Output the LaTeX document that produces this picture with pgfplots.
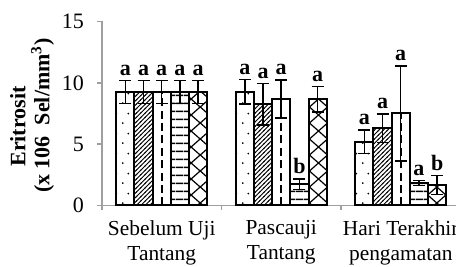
\documentclass[border=0pt]{standalone}
\usepackage{fontspec}
\setmainfont{Liberation Serif}
\usepackage{pgfplots}
\usepackage{pgfplotstable}
\pgfplotsset{compat=1.18}
\usetikzlibrary{patterns}

\pgfdeclarepatternformonly{sdots}{\pgfpointorigin}{\pgfpoint{6pt}{10pt}}{\pgfpoint{6pt}{10pt}}{%
  \pgfpathcircle{\pgfpoint{1.5pt}{2pt}}{0.5pt}%
  \pgfpathcircle{\pgfpoint{4.5pt}{7pt}}{0.5pt}%
  \pgfusepath{fill}}
\pgfdeclarepatternformonly{nelines}{\pgfpoint{-0.5pt}{-0.5pt}}{\pgfpoint{2.7pt}{2.7pt}}{\pgfpoint{2.2pt}{2.2pt}}{%
  \pgfsetlinewidth{0.45pt}%
  \pgfpathmoveto{\pgfpoint{-0.3pt}{-0.3pt}}\pgfpathlineto{\pgfpoint{2.5pt}{2.5pt}}\pgfusepath{stroke}}
\pgfdeclarepatternformonly{hlines}{\pgfpoint{0pt}{0pt}}{\pgfpoint{4pt}{4pt}}{\pgfpoint{4pt}{4pt}}{%
  \pgfsetlinewidth{0.8pt}%
  \pgfpathmoveto{\pgfpoint{-0.1pt}{2pt}}\pgfpathlineto{\pgfpoint{4.1pt}{2pt}}\pgfusepath{stroke}}
\pgfdeclarepatternformonly{xdiam}{\pgfpoint{-0.5pt}{-0.5pt}}{\pgfpoint{9.6pt}{8.5pt}}{\pgfpoint{9.1pt}{8pt}}{%
  \pgfsetlinewidth{0.6pt}%
  \pgfpathmoveto{\pgfpoint{-0.3pt}{-0.3pt}}\pgfpathlineto{\pgfpoint{9.4pt}{8.3pt}}%
  \pgfpathmoveto{\pgfpoint{-0.3pt}{8.3pt}}\pgfpathlineto{\pgfpoint{9.4pt}{-0.3pt}}\pgfusepath{stroke}}

\pgfplotstableread{
x y e lab
0 9.25 0.92 a
1 9.27 1.00 a
2 5.20 0.95 a
}\sA
\pgfplotstableread{
x y e lab
0 9.25 0.92 a
1 8.25 1.70 a
2 6.29 1.17 a
}\sB
\pgfplotstableread{
x y e lab
0 9.25 0.92 a
1 8.68 1.55 a
2 7.51 3.88 a
}\sC
\pgfplotstableread{
x y e lab
0 9.25 0.92 a
1 1.73 0.43 b
2 1.83 0.19 a
}\sD
\pgfplotstableread{
x y e lab
0 9.25 0.92 a
1 8.66 1.03 a
2 1.67 0.76 b
}\sE

\pgfplotsset{
  mybar/.style={
    ybar, bar width=0.1523, bar shift=0pt, draw=black, line width=1pt,
    error bars/y dir=both, error bars/y explicit,
    error bars/error bar style={black, line width=0.75pt, solid},
    error bars/error mark options={rotate=90, mark size=3pt, line width=0.75pt, black, solid},
    nodes near coords,
    point meta=explicit symbolic,
    visualization depends on={\thisrow{e} \as \err},
    every node near coord/.append style={anchor=south, inner sep=1pt,
      font=\bfseries\fontsize{11}{11}\selectfont, yshift={\err*6.135pt+1pt}},
  },
}

\begin{document}
\begin{tikzpicture}
\begin{axis}[
  scale only axis, width=179.25pt, height=92pt,
  xmin=-0.5, xmax=2.5, ymin=0, ymax=15,
  axis x line*=bottom, axis y line*=left,
  axis line style={draw=gray!75, line width=0.75pt},
  ytick={0,5,10,15},
  xtick={0,1,2},
  xticklabels={{Sebelum Uji\\Tantang},{Pascauji\\Tantang},{Hari Terakhir\\pengamatan}},
  xticklabel style={align=center, font=\fontsize{10.7}{12.5}\selectfont, yshift=-1.5pt},
  yticklabel style={font=\fontsize{11}{13}\selectfont, xshift=-3pt},
  /pgf/number format/assume math mode=true,
  major x tick style={draw=none},
  minor xtick={-0.5,0.5,1.5,2.5},
  tick align=outside,
  major tick length=2.5pt, minor tick length=2.5pt,
  every tick/.style={draw=gray!75, line width=0.75pt},
  clip=false,
]
\addplot[mybar, fill=white, postaction={pattern=sdots}]
  table[x expr=\thisrow{x}-0.3046, y=y, y error=e, meta=lab]{\sA};
\addplot[mybar, fill=white, postaction={pattern=nelines}]
  table[x expr=\thisrow{x}-0.1523, y=y, y error=e, meta=lab]{\sB};
\addplot[mybar, fill=white]
  table[x=x, y=y, y error=e, meta=lab]{\sC};
\addplot[ycomb, no marks, draw=black, line width=1pt, dash pattern=on 4pt off 2.2pt]
  table[x=x, y=y]{\sC};
\addplot[mybar, fill=white, postaction={pattern=hlines}]
  table[x expr=\thisrow{x}+0.1523, y=y, y error=e, meta=lab]{\sD};
\addplot[mybar, fill=white, postaction={pattern=xdiam}]
  table[x expr=\thisrow{x}+0.3046, y=y, y error=e, meta=lab]{\sE};
\end{axis}
\node[rotate=90, align=center, inner sep=0pt] at (-35pt,45pt)
  {\fontsize{11}{11.2}\selectfont\bfseries Eritrosit\hphantom{xx}\\
   \fontsize{11}{11.2}\selectfont\bfseries (x 106~~Sel/mm\textsuperscript{3})};
\pgfresetboundingbox
\useasboundingbox (-51pt,-30.75pt) rectangle (177pt,102.75pt);
\end{tikzpicture}
\end{document}
